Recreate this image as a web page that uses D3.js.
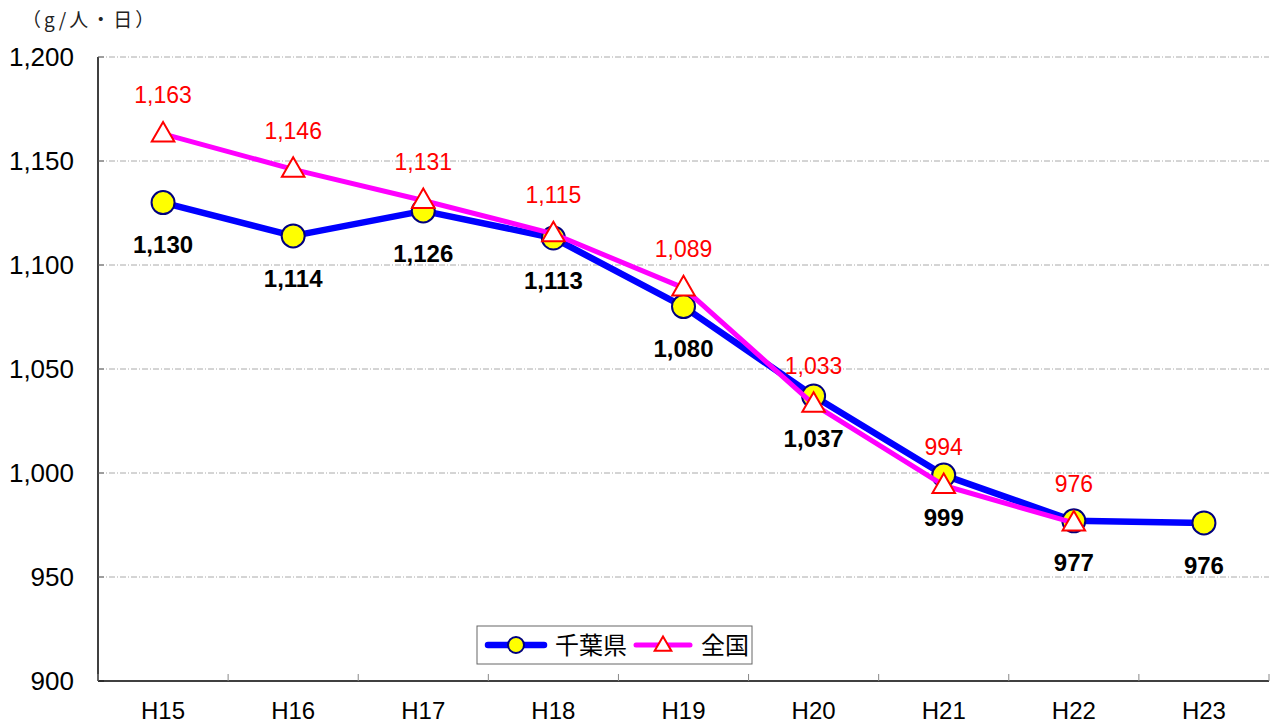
<!DOCTYPE html>
<html>
<head>
<meta charset="utf-8">
<script src="https://d3js.org/d3.v7.min.js"></script>
<style>
body { margin:0; background:#fff; }
text { font-family: "Liberation Sans", Arial, sans-serif; }
</style>
</head>
<body>
<div id="chart"></div>
<script>
// data
var years = ["H15","H16","H17","H18","H19","H20","H21","H22","H23"]
var chiba = [1130,1114,1126,1113,1080,1037,999,977,976]
var zenkoku = [1163,1146,1131,1115,1089,1033,994,976]
var yTicks = [900,950,1000,1050,1100,1150,1200]
var seriesNames = ["千葉県","全国"]

var W = 1271, H = 726
var margin = {top: 57, right: 2, bottom: 45, left: 98}
var width = W - margin.left - margin.right,
    height = H - margin.top - margin.bottom

var svg = d3.select("#chart").append("svg")
    .attr("width", W).attr("height", H)
var g = svg.append("g").attr("transform", "translate(" + margin.left + "," + margin.top + ")")

var x = d3.scaleBand().domain(years).range([0, width])
var y = d3.scaleLinear().domain([900, 1200]).range([height, 0])
var cx = function(d, i) { return x(years[i]) + x.bandwidth()/2 }

// unit label
svg.append("text").attr("x", 22).attr("y", 27)
    .style("font-family", "'Noto Sans CJK JP', sans-serif").style("font-size", "19px")
    .style("letter-spacing", "3px")
    .attr("fill", "#222").text("（g/人・日）")

// gridlines
g.selectAll(".grid").data(yTicks.filter(function(d){ return d > 900 }))
    .enter().append("line")
    .attr("x1", 0).attr("x2", width)
    .attr("y1", function(d){ return y(d) }).attr("y2", function(d){ return y(d) })
    .attr("stroke", "#aaa").attr("stroke-width", 1)
    .attr("stroke-dasharray", "6,2,1,2")

// y axis
g.append("line").attr("x1", 0).attr("x2", 0).attr("y1", 0).attr("y2", height)
    .attr("stroke", "#000").attr("stroke-width", 1.5)
g.selectAll(".ytick").data(yTicks).enter().append("line")
    .attr("x1", 0).attr("x2", 6)
    .attr("y1", function(d){ return y(d) }).attr("y2", function(d){ return y(d) })
    .attr("stroke", "#666")
g.selectAll(".ylab").data(yTicks).enter().append("text")
    .attr("x", -24).attr("y", function(d){ return y(d) })
    .attr("dy", "0.36em").attr("text-anchor", "end")
    .style("font-size", "26px").attr("fill", "#000")
    .text(d3.format(","))

// x axis
g.append("line").attr("x1", 0).attr("x2", width).attr("y1", height).attr("y2", height)
    .attr("stroke", "#000").attr("stroke-width", 1.5)
g.selectAll(".xtick").data(years.concat(["end"])).enter().append("line")
    .attr("x1", function(d, i){ return i * x.bandwidth() })
    .attr("x2", function(d, i){ return i * x.bandwidth() })
    .attr("y1", height).attr("y2", height - 7)
    .attr("stroke", "#888")
g.selectAll(".xlab").data(years).enter().append("text")
    .attr("x", function(d){ return x(d) + x.bandwidth()/2 })
    .attr("y", height + 38)
    .attr("text-anchor", "middle").style("font-size", "24px").attr("fill", "#000")
    .text(function(d){ return d })

// lines
var line = d3.line().x(cx).y(function(d){ return y(d) })
g.append("path").datum(chiba).attr("d", line)
    .attr("fill", "none").attr("stroke", "#0000ff").attr("stroke-width", 6.5)
    .attr("stroke-linejoin", "round")
g.selectAll(".pt1").data(chiba).enter().append("circle")
    .attr("cx", cx).attr("cy", function(d){ return y(d) }).attr("r", 11.5)
    .attr("fill", "#ffff00").attr("stroke", "#000080").attr("stroke-width", 2)

g.append("path").datum(zenkoku).attr("d", line)
    .attr("fill", "none").attr("stroke", "#ff00ff").attr("stroke-width", 5)
    .attr("stroke-linejoin", "round")
var tri = d3.symbol().type(d3.symbolTriangle).size(220)
g.selectAll(".pt2").data(zenkoku).enter().append("path")
    .attr("d", tri)
    .attr("transform", function(d, i){ return "translate(" + cx(d, i) + "," + (y(d) + 1) + ")" })
    .attr("fill", "#fff").attr("stroke", "#ff0000").attr("stroke-width", 2)

// data labels
g.selectAll(".lab1").data(chiba).enter().append("text")
    .attr("x", cx).attr("y", function(d){ return y(d) + 42 }).attr("dy", "0.36em")
    .attr("text-anchor", "middle").style("font-size", "24px").style("font-weight", "bold")
    .attr("fill", "#000").text(d3.format(","))
g.selectAll(".lab2").data(zenkoku).enter().append("text")
    .attr("x", cx).attr("y", function(d){ return y(d) - 39 }).attr("dy", "0.36em")
    .attr("text-anchor", "middle").style("font-size", "23px")
    .attr("fill", "#ff0000").text(d3.format(","))

// legend
var lg = svg.append("g").attr("transform", "translate(477,626)")
lg.append("rect").attr("width", 275).attr("height", 38)
    .attr("fill", "#fff").attr("stroke", "#666").attr("stroke-width", 1)
lg.append("line").attr("x1", 11).attr("x2", 67).attr("y1", 19).attr("y2", 19)
    .attr("stroke", "#0000ff").attr("stroke-width", 6.5).attr("stroke-linecap", "round")
lg.append("circle").attr("cx", 39).attr("cy", 19).attr("r", 8)
    .attr("fill", "#ffff00").attr("stroke", "#000080").attr("stroke-width", 2)
lg.append("text").attr("x", 78).attr("y", 19).attr("dy", "0.36em")
    .style("font-family", "'Noto Sans CJK JP', sans-serif").style("font-size", "24px")
    .attr("fill", "#000").text(seriesNames[0])
lg.append("line").attr("x1", 159).attr("x2", 213).attr("y1", 19).attr("y2", 19)
    .attr("stroke", "#ff00ff").attr("stroke-width", 5).attr("stroke-linecap", "round")
lg.append("path").attr("d", d3.symbol().type(d3.symbolTriangle).size(120))
    .attr("transform", "translate(186,20)")
    .attr("fill", "#fff").attr("stroke", "#ff0000").attr("stroke-width", 2)
lg.append("text").attr("x", 224).attr("y", 19).attr("dy", "0.36em")
    .style("font-family", "'Noto Sans CJK JP', sans-serif").style("font-size", "24px")
    .attr("fill", "#000").text(seriesNames[1])
</script>
</body>
</html>
